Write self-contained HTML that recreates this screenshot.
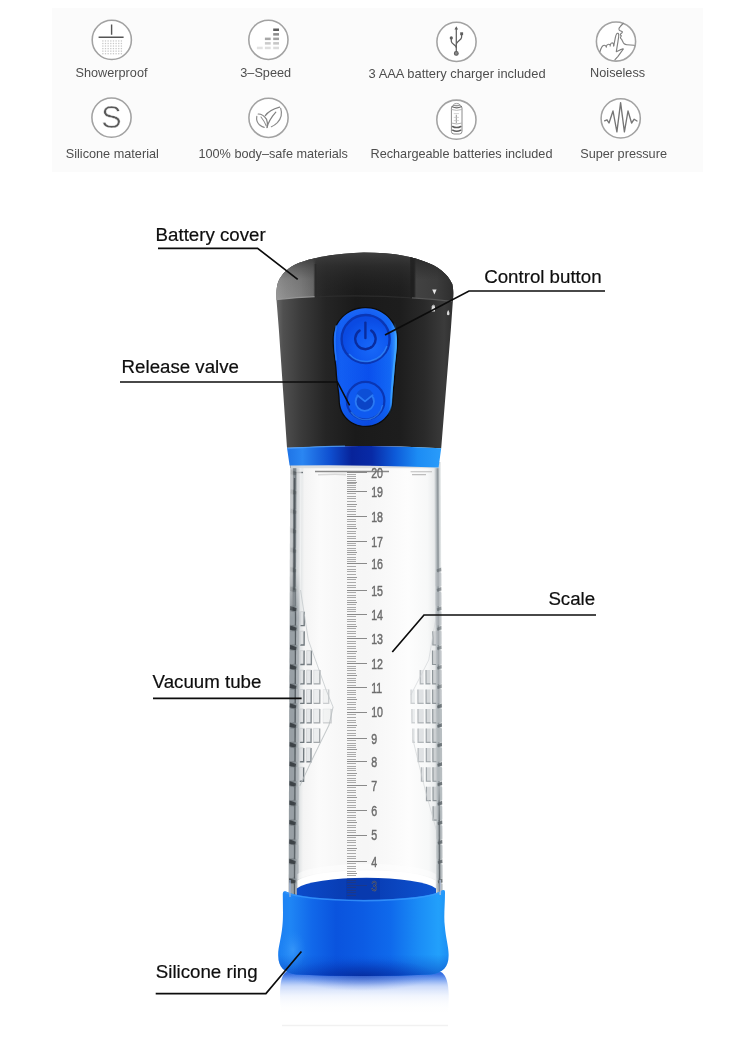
<!DOCTYPE html>
<html lang="en">
<head>
<meta charset="utf-8">
<title>Product parts diagram</title>
<style>
  html, body { margin: 0; padding: 0; background: #ffffff; }
  body { width: 750px; height: 1041px; overflow: hidden; position: relative;
         font-family: "Liberation Sans", sans-serif; }
  svg { position: absolute; left: 0; top: 0; display: block; will-change: transform; }
  text { font-family: "Liberation Sans", sans-serif; }
  .feat { font-size: 12.7px; fill: #4e4e4e; text-anchor: middle; }
  .lab  { font-size: 18.7px; fill: #0e0e0e; stroke: #0e0e0e; stroke-width: 0.2; }
  .call { fill: none; stroke: #0c0c0c; stroke-width: 1.7; stroke-linejoin: miter; }
  .ring { fill: #ffffff; stroke: #a2a2a2; stroke-width: 1.55; }
  .ico  { fill: none; stroke: #6a6a6a; stroke-width: 1.2; stroke-linecap: round; stroke-linejoin: round; }
  .num  { font-size: 14.6px; fill: #6c6c6c; stroke: #6c6c6c; stroke-width: 0.45; }
</style>
</head>
<body>
<svg width="750" height="1041" viewBox="0 0 750 1041">
  <defs>
    <!--DEFS_START-->
    <linearGradient id="gBody" x1="276" x2="453" y1="0" y2="0" gradientUnits="userSpaceOnUse">
      <stop offset="0" stop-color="#6a6a6a"/>
      <stop offset="0.04" stop-color="#505050"/>
      <stop offset="0.14" stop-color="#3b3b3b"/>
      <stop offset="0.28" stop-color="#252525"/>
      <stop offset="0.45" stop-color="#1a1a1a"/>
      <stop offset="0.70" stop-color="#1d1d1d"/>
      <stop offset="0.84" stop-color="#2a2a2a"/>
      <stop offset="0.95" stop-color="#3b3b3b"/>
      <stop offset="1" stop-color="#303030"/>
    </linearGradient>
    <linearGradient id="gTopShade" x1="0" x2="0" y1="252" y2="300" gradientUnits="userSpaceOnUse">
      <stop offset="0" stop-color="#444444" stop-opacity="0.9"/>
      <stop offset="0.3" stop-color="#343434" stop-opacity="0.6"/>
      <stop offset="1" stop-color="#202020" stop-opacity="0"/>
    </linearGradient>
    <linearGradient id="gCoverL" x1="276" x2="316" y1="0" y2="0" gradientUnits="userSpaceOnUse">
      <stop offset="0" stop-color="#9a9a9a"/>
      <stop offset="0.22" stop-color="#8e8e8e"/>
      <stop offset="0.6" stop-color="#808080"/>
      <stop offset="0.92" stop-color="#6c6c6c"/>
      <stop offset="1" stop-color="#4a4a4a"/>
    </linearGradient>
    <linearGradient id="gCoverLv" x1="0" x2="0" y1="258" y2="300" gradientUnits="userSpaceOnUse">
      <stop offset="0" stop-color="#2a2a2a" stop-opacity="0.7"/>
      <stop offset="0.25" stop-color="#2a2a2a" stop-opacity="0.38"/>
      <stop offset="0.5" stop-color="#2a2a2a" stop-opacity="0.12"/>
      <stop offset="1" stop-color="#2a2a2a" stop-opacity="0"/>
    </linearGradient>
    <linearGradient id="gCoverR" x1="412" x2="453" y1="0" y2="0" gradientUnits="userSpaceOnUse">
      <stop offset="0" stop-color="#1f1f1f"/>
      <stop offset="0.05" stop-color="#202020"/>
      <stop offset="0.10" stop-color="#424242"/>
      <stop offset="0.6" stop-color="#3c3c3c"/>
      <stop offset="1" stop-color="#2e2e2e"/>
    </linearGradient>
    <linearGradient id="gCoverRv" x1="0" x2="0" y1="256" y2="280" gradientUnits="userSpaceOnUse">
      <stop offset="0" stop-color="#262626" stop-opacity="0.85"/>
      <stop offset="1" stop-color="#262626" stop-opacity="0"/>
    </linearGradient>
    <linearGradient id="gUpFade" x1="0" x2="0" y1="468" y2="618" gradientUnits="userSpaceOnUse">
      <stop offset="0" stop-color="#ffffff" stop-opacity="1"/>
      <stop offset="0.7" stop-color="#ffffff" stop-opacity="1"/>
      <stop offset="1" stop-color="#ffffff" stop-opacity="0"/>
    </linearGradient>
    <linearGradient id="gRLine" x1="0" x2="0" y1="780" y2="892" gradientUnits="userSpaceOnUse">
      <stop offset="0" stop-color="#60676c" stop-opacity="0"/>
      <stop offset="0.35" stop-color="#60676c" stop-opacity="0.8"/>
      <stop offset="1" stop-color="#555c61" stop-opacity="0.95"/>
    </linearGradient>
    <linearGradient id="gBlueRing" x1="287" x2="441" y1="0" y2="0" gradientUnits="userSpaceOnUse">
      <stop offset="0" stop-color="#1f74e6"/>
      <stop offset="0.10" stop-color="#2a86f2"/>
      <stop offset="0.28" stop-color="#0f4fd0"/>
      <stop offset="0.42" stop-color="#07239a"/>
      <stop offset="0.55" stop-color="#082aa6"/>
      <stop offset="0.70" stop-color="#0d5ad8"/>
      <stop offset="0.85" stop-color="#1c8cf4"/>
      <stop offset="1" stop-color="#2a9cfa"/>
    </linearGradient>
    <linearGradient id="gPanel" x1="333" x2="398" y1="0" y2="0" gradientUnits="userSpaceOnUse">
      <stop offset="0" stop-color="#0d50e6"/>
      <stop offset="0.12" stop-color="#125ff4"/>
      <stop offset="0.55" stop-color="#0a50ee"/>
      <stop offset="0.88" stop-color="#1268f6"/>
      <stop offset="0.97" stop-color="#3b9bff"/>
      <stop offset="1" stop-color="#2a86fa"/>
    </linearGradient>
    <linearGradient id="gHi" x1="0" x2="0" y1="322" y2="416" gradientUnits="userSpaceOnUse">
      <stop offset="0" stop-color="#3fa6ff" stop-opacity="0"/>
      <stop offset="0.2" stop-color="#3fa6ff" stop-opacity="0.9"/>
      <stop offset="0.8" stop-color="#3fa6ff" stop-opacity="0.8"/>
      <stop offset="1" stop-color="#3fa6ff" stop-opacity="0"/>
    </linearGradient>
    <linearGradient id="gPanelV" x1="0" x2="0" y1="308" y2="426" gradientUnits="userSpaceOnUse">
      <stop offset="0" stop-color="#3a8cff" stop-opacity="0.35"/>
      <stop offset="0.12" stop-color="#2a7cff" stop-opacity="0.1"/>
      <stop offset="0.8" stop-color="#0a3cc0" stop-opacity="0"/>
      <stop offset="1" stop-color="#0a3cc0" stop-opacity="0.3"/>
    </linearGradient>
    <radialGradient id="gBtn1" cx="372" cy="348" r="30" gradientUnits="userSpaceOnUse">
      <stop offset="0" stop-color="#1868f8"/>
      <stop offset="0.6" stop-color="#0e58f0"/>
      <stop offset="1" stop-color="#0a4ae2"/>
    </radialGradient>
    <linearGradient id="gTube" x1="290.2" x2="440.8" y1="0" y2="0" gradientUnits="userSpaceOnUse">
      <stop offset="0" stop-color="#979ea3"/>
      <stop offset="0.018" stop-color="#737a7f"/>
      <stop offset="0.04" stop-color="#838b90"/>
      <stop offset="0.058" stop-color="#aeb4b8"/>
      <stop offset="0.072" stop-color="#e2e5e6"/>
      <stop offset="0.095" stop-color="#f4f4f4"/>
      <stop offset="0.20" stop-color="#fbfbfb"/>
      <stop offset="0.34" stop-color="#f7f7f7"/>
      <stop offset="0.50" stop-color="#f6f6f6"/>
      <stop offset="0.64" stop-color="#f9f9f9"/>
      <stop offset="0.78" stop-color="#fdfdfd"/>
      <stop offset="0.91" stop-color="#f7f8f8"/>
      <stop offset="0.955" stop-color="#e9ebec"/>
      <stop offset="0.97" stop-color="#b0b7bb"/>
      <stop offset="0.98" stop-color="#868e93"/>
      <stop offset="0.99" stop-color="#cfd4d6"/>
      <stop offset="1" stop-color="#e9ecec"/>
    </linearGradient>
    <linearGradient id="gBase" x1="278" x2="449" y1="0" y2="0" gradientUnits="userSpaceOnUse">
      <stop offset="0" stop-color="#1c80f2"/>
      <stop offset="0.07" stop-color="#1f86f5"/>
      <stop offset="0.20" stop-color="#1168ea"/>
      <stop offset="0.34" stop-color="#0a54de"/>
      <stop offset="0.50" stop-color="#0c5ce4"/>
      <stop offset="0.66" stop-color="#0f6aec"/>
      <stop offset="0.82" stop-color="#1a8cf6"/>
      <stop offset="0.94" stop-color="#22a0fb"/>
      <stop offset="1" stop-color="#1c8ef4"/>
    </linearGradient>
    <linearGradient id="gBaseV" x1="0" x2="0" y1="890" y2="976" gradientUnits="userSpaceOnUse">
      <stop offset="0" stop-color="#3aa0ff" stop-opacity="0.35"/>
      <stop offset="0.12" stop-color="#2a8cff" stop-opacity="0"/>
      <stop offset="0.75" stop-color="#0540c0" stop-opacity="0"/>
      <stop offset="1" stop-color="#0534b0" stop-opacity="0.55"/>
    </linearGradient>
    <radialGradient id="gBulge" cx="0.5" cy="0.5" r="0.5">
      <stop offset="0" stop-color="#46a2fc" stop-opacity="0.55"/>
      <stop offset="1" stop-color="#2a8cf6" stop-opacity="0"/>
    </radialGradient>
    <radialGradient id="gBotShade" cx="0.5" cy="0.5" r="0.5">
      <stop offset="0" stop-color="#04228c" stop-opacity="0.75"/>
      <stop offset="0.5" stop-color="#052ea6" stop-opacity="0.45"/>
      <stop offset="1" stop-color="#0a44c8" stop-opacity="0"/>
    </radialGradient>
    <radialGradient id="gReflShade" cx="0.5" cy="0.5" r="0.5">
      <stop offset="0" stop-color="#1436a8" stop-opacity="0.6"/>
      <stop offset="0.55" stop-color="#2a54c8" stop-opacity="0.3"/>
      <stop offset="1" stop-color="#5a84e8" stop-opacity="0"/>
    </radialGradient>
    <linearGradient id="gRefl" x1="0" x2="0" y1="974" y2="1012" gradientUnits="userSpaceOnUse">
      <stop offset="0" stop-color="#1f5fe0" stop-opacity="0.9"/>
      <stop offset="0.14" stop-color="#3f7aea" stop-opacity="0.7"/>
      <stop offset="0.32" stop-color="#7ea4f2" stop-opacity="0.42"/>
      <stop offset="0.6" stop-color="#b9cdf8" stop-opacity="0.18"/>
      <stop offset="1" stop-color="#ffffff" stop-opacity="0"/>
    </linearGradient>
    <linearGradient id="gInner" x1="300" x2="434" y1="0" y2="0" gradientUnits="userSpaceOnUse">
      <stop offset="0" stop-color="#0b4ac8"/>
      <stop offset="0.3" stop-color="#093eb6"/>
      <stop offset="0.6" stop-color="#0940b8"/>
      <stop offset="1" stop-color="#0d52cf"/>
    </linearGradient>
    <linearGradient id="gGridFadeL" x1="300" x2="334" y1="0" y2="0" gradientUnits="userSpaceOnUse">
      <stop offset="0" stop-color="#fff" stop-opacity="1"/>
      <stop offset="0.5" stop-color="#fff" stop-opacity="0.75"/>
      <stop offset="1" stop-color="#fff" stop-opacity="0.25"/>
    </linearGradient>
    <clipPath id="clipCap"><path d="M364 252.4C385 252.4 405 254.2 423.7 261.3C438 266.2 447.4 273.4 452.3 284C453.6 290 453.4 295 453 299L450.8 330L441.2 448.2Q364 444 287 447.8L278.9 330L276.4 298.7C276.1 292 276.6 288 277.5 284C279.6 276.6 286 269 294.3 264.9C310 258 335 253 364 252.4Z"/></clipPath>
<!--DEFS_END-->
  </defs>

  <!-- ===== feature strip ===== -->
  <g id="strip">
    <rect x="52" y="8" width="651" height="164" fill="#fbfbfb"/>
        <g id="icons">
    <circle class="ring" cx="111.8" cy="39.9" r="19.6"/><path class="ico" d="M111.6 24.6V34.8M98.6 37.3H123.6" style="stroke:#555;stroke-width:1.4;stroke-linecap:butt"/><g fill="#c9c9c9"><rect x="102.20" y="40.30" width="1.3" height="1.3"/><rect x="104.85" y="40.30" width="1.3" height="1.3"/><rect x="107.50" y="40.30" width="1.3" height="1.3"/><rect x="110.15" y="40.30" width="1.3" height="1.3"/><rect x="112.80" y="40.30" width="1.3" height="1.3"/><rect x="115.45" y="40.30" width="1.3" height="1.3"/><rect x="118.10" y="40.30" width="1.3" height="1.3"/><rect x="120.75" y="40.30" width="1.3" height="1.3"/><rect x="102.20" y="42.85" width="1.3" height="1.3"/><rect x="104.85" y="42.85" width="1.3" height="1.3"/><rect x="107.50" y="42.85" width="1.3" height="1.3"/><rect x="110.15" y="42.85" width="1.3" height="1.3"/><rect x="112.80" y="42.85" width="1.3" height="1.3"/><rect x="115.45" y="42.85" width="1.3" height="1.3"/><rect x="118.10" y="42.85" width="1.3" height="1.3"/><rect x="120.75" y="42.85" width="1.3" height="1.3"/><rect x="102.20" y="45.40" width="1.3" height="1.3"/><rect x="104.85" y="45.40" width="1.3" height="1.3"/><rect x="107.50" y="45.40" width="1.3" height="1.3"/><rect x="110.15" y="45.40" width="1.3" height="1.3"/><rect x="112.80" y="45.40" width="1.3" height="1.3"/><rect x="115.45" y="45.40" width="1.3" height="1.3"/><rect x="118.10" y="45.40" width="1.3" height="1.3"/><rect x="120.75" y="45.40" width="1.3" height="1.3"/><rect x="102.20" y="47.95" width="1.3" height="1.3"/><rect x="104.85" y="47.95" width="1.3" height="1.3"/><rect x="107.50" y="47.95" width="1.3" height="1.3"/><rect x="110.15" y="47.95" width="1.3" height="1.3"/><rect x="112.80" y="47.95" width="1.3" height="1.3"/><rect x="115.45" y="47.95" width="1.3" height="1.3"/><rect x="118.10" y="47.95" width="1.3" height="1.3"/><rect x="120.75" y="47.95" width="1.3" height="1.3"/><rect x="102.20" y="50.50" width="1.3" height="1.3"/><rect x="104.85" y="50.50" width="1.3" height="1.3"/><rect x="107.50" y="50.50" width="1.3" height="1.3"/><rect x="110.15" y="50.50" width="1.3" height="1.3"/><rect x="112.80" y="50.50" width="1.3" height="1.3"/><rect x="115.45" y="50.50" width="1.3" height="1.3"/><rect x="118.10" y="50.50" width="1.3" height="1.3"/><rect x="120.75" y="50.50" width="1.3" height="1.3"/><rect x="102.20" y="53.05" width="1.3" height="1.3"/><rect x="104.85" y="53.05" width="1.3" height="1.3"/><rect x="107.50" y="53.05" width="1.3" height="1.3"/><rect x="110.15" y="53.05" width="1.3" height="1.3"/><rect x="112.80" y="53.05" width="1.3" height="1.3"/><rect x="115.45" y="53.05" width="1.3" height="1.3"/><rect x="118.10" y="53.05" width="1.3" height="1.3"/><rect x="120.75" y="53.05" width="1.3" height="1.3"/></g>
    <circle class="ring" cx="268.4" cy="39.8" r="19.6"/><rect x="256.9" y="46.699999999999996" width="5.8" height="2.5" fill="#e2e2e2"/><rect x="264.9" y="37.599999999999994" width="5.8" height="2.5" fill="#a8a8a8"/><rect x="264.9" y="42.099999999999994" width="5.8" height="2.5" fill="#cacaca"/><rect x="264.9" y="46.699999999999996" width="5.8" height="2.5" fill="#dedede"/><rect x="273.2" y="28.5" width="5.8" height="2.5" fill="#5c5c5c"/><rect x="273.2" y="33.099999999999994" width="5.8" height="2.5" fill="#8c8c8c"/><rect x="273.2" y="37.599999999999994" width="5.8" height="2.5" fill="#a2a2a2"/><rect x="273.2" y="42.099999999999994" width="5.8" height="2.5" fill="#c6c6c6"/><rect x="273.2" y="46.699999999999996" width="5.8" height="2.5" fill="#dcdcdc"/>
    <circle class="ring" cx="456.5" cy="41.8" r="19.6"/><g class="ico" style="stroke:#5e5e5e;stroke-width:1.25"><path d="M456.3 28.2V51.2"/><path d="M456.3 47.6C456.3 44.6 451.3 44.2 451.3 41.2V38.6"/><path d="M456.3 44.2C456.3 41.2 461.6 40.2 461.6 37.2V35"/></g><path d="M456.3 26.2L458.1 29.6H454.5Z" fill="#5e5e5e"/><circle cx="451.3" cy="37.9" r="1.6" fill="#5e5e5e"/><rect x="460.2" y="32.3" width="2.9" height="2.9" fill="#5e5e5e"/><circle cx="456.3" cy="53.4" r="1.9" fill="#8a8a8a" stroke="#5e5e5e" stroke-width="1.1"/>
    <circle class="ring" cx="616" cy="41.5" r="19.6"/><g class="ico" style="stroke:#808080;stroke-width:1.15">
<path d="M623.3 23.3L620.7 26C619.8 27 619 27.8 619 28.6C618.9 29.6 619 30.2 619.6 30.5L622 31.5C622.6 31.8 622.5 32.2 622 32.7L620.4 34.1C620.2 34.6 620.6 35.2 621.3 35.7C621.2 36.4 620.4 37.1 620.4 37.8C620.6 38.5 621.4 38.9 621.7 39.4C622 40.2 622.3 40.8 622.7 41.4C623 42.4 623.4 43.2 624.2 43.8C625 44.4 625.8 44.6 626.8 44.7L634.2 45.3"/>
<path d="M600 51.7C600.3 50.4 600.7 49.4 601.1 48.6C601.4 47.6 601.7 46.9 602.2 46.5C603 45.6 604.2 45 605 45.4C605.6 45.7 606 46 606.3 46.3C606.6 45.2 607.6 44.2 608.5 44.2C609.3 44.2 609.8 44.5 610.2 45C610.6 43.8 611.4 42.9 612.2 42.8C613 42.8 613.4 43.4 613.6 44.4L613.7 46L615.4 37.3C615.7 35.6 616.3 34.2 616.9 33.5C617.6 33 618.5 33.3 618.7 34.4C618.9 36.6 618.3 39 618 41.3L617 47.3L616.3 51.7L620 49.9L623 48.7C623.4 48.8 623.3 49.2 623 49.5L620.7 52.7L618 56.3L615 59.7"/>
<path d="M613.7 46V44.6M610.2 45V46.2M606.3 46.3V47.4" style="stroke-width:0.9"/>
</g>
    <circle class="ring" cx="111.5" cy="117.6" r="19.6"/><text x="111.5" y="128.4" text-anchor="middle" style="font-size:30.5px;fill:#5a5a5a;stroke:#fff;stroke-width:0.5">S</text>
    <circle class="ring" cx="268.5" cy="117.8" r="19.6"/><g class="ico" style="stroke:#808080;stroke-width:1.2">
<path d="M265.3 115.7C267.5 112.5 271.5 109.5 279.6 107.2"/>
<path d="M280.7 108.4C282.2 113 281.2 118.5 277.4 122.7C275.6 124.6 273.6 125.9 271.4 126.7" style="stroke:#8c8c8c"/>
<path d="M267 127.6C268 123.5 270.6 118 275.8 112.2"/>
<path d="M258.2 114C261 114 264.5 116 266.6 119.4C267.5 121.5 267.6 124.5 267.2 127.2"/>
<path d="M256.8 116.4C256.2 119.5 257 122.4 259.4 124.8C260.8 126 262.5 126.9 264.2 127.3" style="stroke:#8c8c8c"/>
<path d="M261 117C263 119.5 265 122.5 266.2 125.8" style="stroke:#8c8c8c;stroke-width:1.05"/>
</g>
    <circle class="ring" cx="456.4" cy="119.7" r="19.6"/><g class="ico" style="stroke:#8c8c8c;stroke-width:1">
<rect x="451.4" y="105.4" width="10.6" height="28.6" rx="2.6"/>
<ellipse cx="456.7" cy="104.7" rx="3" ry="1.3" style="stroke:#9a9a9a;stroke-width:0.9"/>
<path d="M452.2 106.7Q456.7 108.9 461.2 106.7" style="stroke:#6a6a6a;stroke-width:1.2"/>
<path d="M451.8 109.6Q456.7 111.3 461.6 109.6" style="stroke:#b0b0b0;stroke-width:0.9"/>
<path d="M452 123.2Q456.7 124.9 461.4 123.2" style="stroke:#a8a8a8;stroke-width:0.9"/>
<path d="M452.6 126.5Q456.7 128.7 460.8 126.5" style="stroke:#5e5e5e;stroke-width:1.5"/>
<path d="M452.6 130.2Q456.7 132.4 460.8 130.2" style="stroke:#5e5e5e;stroke-width:1.5"/>
<path d="M456.3 115.2V122.8" style="stroke:#8a8a8a;stroke-width:0.9"/>
<path d="M454.2 113.6H458.6M454.2 117.4H458.6M454.2 120.6H458.6" style="stroke:#c2c2c2;stroke-width:0.7"/>
</g>
    <circle class="ring" cx="620.7" cy="118.4" r="19.6"/><path class="ico" style="stroke:#767676;stroke-width:1.35" d="M604.6 120.8L607 119.8L609 123L613 111L616.9 131.8L620.6 102.6L624.4 131.8L628 111L631.6 123L634.2 119.2L637 121"/>
    </g>
    <text class="feat" x="111.5" y="77.3">Showerproof</text>
    <text class="feat" x="265.7" y="77.3">3–Speed</text>
    <text class="feat" x="457.1" y="77.6" style="font-size:12.9px">3 AAA battery charger included</text>
    <text class="feat" x="617.6" y="76.6">Noiseless</text>
    <text class="feat" x="112.3" y="158.3">Silicone material</text>
    <text class="feat" x="273.2" y="158.3">100% body–safe materials</text>
    <text class="feat" x="461.5" y="158.3">Rechargeable batteries included</text>
    <text class="feat" x="623.6" y="157.6">Super pressure</text>
  </g>

  <!-- ===== product ===== -->
  <g id="product">
    <!--PRODUCT_START-->
<g id="tube">
<rect x="335" y="462" width="60" height="436" fill="#f6f6f6"/>
<g transform="translate(1.75 0) skewX(-0.2155)"><rect x="290.2" y="462" width="75.4" height="436" fill="url(#gTube)"/></g>
<g transform="translate(-1.75 0) skewX(0.2155)"><rect x="365.4" y="462" width="75.4" height="436" fill="url(#gTube)"/></g>
<rect x="291" y="465" width="149" height="3.2" fill="#d8dcdf" opacity="0.9"/>
<path d="M315 471.6H389" stroke="#8a8a8a" stroke-width="1.5" fill="none"/>
<path d="M410.6 471.8H432M412 474.6H426" stroke="#bdbdbd" stroke-width="1.1" fill="none"/>
<path d="M292 472.5H303" stroke="#6f767b" stroke-width="1.4" fill="none"/>
<path d="M318 474.8Q335 473.8 346 474.6" stroke="#d9d9d9" stroke-width="1.6" fill="none"/>
<g transform="translate(1.75 0) skewX(-0.2155)"><rect x="290.6" y="475.6" width="4.6" height="13.4" rx="1.4" fill="#9aa1a6" opacity="0.38"/><path d="M290.8 469.8L297.2 472.2L296.6 475.2L290.6 474.2Z" fill="#383e42" opacity="0.37"/><rect x="296.6" y="475.2" width="3.2" height="14.2" rx="0.8" fill="#aeb4b8" opacity="0.34"/><path d="M296.2 475.2V489.4" stroke="#4d5459" stroke-width="1.1" opacity="0.34"/><rect x="290.6" y="495.0" width="4.6" height="13.4" rx="1.4" fill="#9aa1a6" opacity="0.38"/><path d="M290.8 489.2L297.2 491.6L296.6 494.6L290.6 493.6Z" fill="#383e42" opacity="0.37"/><rect x="296.6" y="494.6" width="3.2" height="14.2" rx="0.8" fill="#aeb4b8" opacity="0.34"/><path d="M296.2 494.6V508.9" stroke="#4d5459" stroke-width="1.1" opacity="0.34"/><rect x="290.6" y="514.5" width="4.6" height="13.4" rx="1.4" fill="#9aa1a6" opacity="0.38"/><path d="M290.8 508.7L297.2 511.1L296.6 514.1L290.6 513.1Z" fill="#383e42" opacity="0.37"/><rect x="296.6" y="514.1" width="3.2" height="14.2" rx="0.8" fill="#aeb4b8" opacity="0.34"/><path d="M296.2 514.1V528.3" stroke="#4d5459" stroke-width="1.1" opacity="0.34"/><rect x="290.6" y="533.9" width="4.6" height="13.4" rx="1.4" fill="#9aa1a6" opacity="0.38"/><path d="M290.8 528.1L297.2 530.5L296.6 533.5L290.6 532.5Z" fill="#383e42" opacity="0.37"/><rect x="296.6" y="533.5" width="3.2" height="14.2" rx="0.8" fill="#aeb4b8" opacity="0.34"/><path d="M296.2 533.5V547.8" stroke="#4d5459" stroke-width="1.1" opacity="0.34"/><rect x="290.6" y="553.4" width="4.6" height="13.4" rx="1.4" fill="#9aa1a6" opacity="0.38"/><path d="M290.8 547.6L297.2 550.0L296.6 553.0L290.6 552.0Z" fill="#383e42" opacity="0.37"/><rect x="296.6" y="553.0" width="3.2" height="14.2" rx="0.8" fill="#aeb4b8" opacity="0.34"/><path d="M296.2 553.0V567.2" stroke="#4d5459" stroke-width="1.1" opacity="0.34"/><rect x="290.6" y="572.8" width="4.6" height="13.4" rx="1.4" fill="#9aa1a6" opacity="0.38"/><path d="M290.8 567.0L297.2 569.4L296.6 572.4L290.6 571.4Z" fill="#383e42" opacity="0.37"/><rect x="296.6" y="572.4" width="3.2" height="14.2" rx="0.8" fill="#aeb4b8" opacity="0.34"/><path d="M296.2 572.4V586.7" stroke="#4d5459" stroke-width="1.1" opacity="0.34"/><rect x="290.6" y="592.2" width="4.6" height="13.4" rx="1.4" fill="#9aa1a6" opacity="0.38"/><path d="M290.8 586.5L297.2 588.9L296.6 591.9L290.6 590.9Z" fill="#383e42" opacity="0.37"/><rect x="296.6" y="591.9" width="3.2" height="14.2" rx="0.8" fill="#aeb4b8" opacity="0.34"/><path d="M296.2 591.9V606.1" stroke="#4d5459" stroke-width="1.1" opacity="0.34"/><rect x="290.6" y="611.7" width="4.6" height="13.4" rx="1.4" fill="#9aa1a6" opacity="0.95"/><path d="M290.8 605.9L297.2 608.3L296.6 611.3L290.6 610.3Z" fill="#383e42" opacity="0.92"/><rect x="296.6" y="611.3" width="3.2" height="14.2" rx="0.8" fill="#aeb4b8" opacity="0.85"/><path d="M296.2 611.3V625.6" stroke="#4d5459" stroke-width="1.1" opacity="0.85"/><rect x="290.6" y="631.2" width="4.6" height="13.4" rx="1.4" fill="#9aa1a6" opacity="0.95"/><path d="M290.8 625.4L297.2 627.8L296.6 630.8L290.6 629.8Z" fill="#383e42" opacity="0.92"/><rect x="296.6" y="630.8" width="3.2" height="14.2" rx="0.8" fill="#aeb4b8" opacity="0.85"/><path d="M296.2 630.8V645.0" stroke="#4d5459" stroke-width="1.1" opacity="0.85"/><rect x="290.6" y="650.6" width="4.6" height="13.4" rx="1.4" fill="#9aa1a6" opacity="0.95"/><path d="M290.8 644.8L297.2 647.2L296.6 650.2L290.6 649.2Z" fill="#383e42" opacity="0.92"/><rect x="296.6" y="650.2" width="3.2" height="14.2" rx="0.8" fill="#aeb4b8" opacity="0.85"/><path d="M296.2 650.2V664.5" stroke="#4d5459" stroke-width="1.1" opacity="0.85"/><rect x="290.6" y="670.1" width="4.6" height="13.4" rx="1.4" fill="#9aa1a6" opacity="0.95"/><path d="M290.8 664.3L297.2 666.7L296.6 669.7L290.6 668.7Z" fill="#383e42" opacity="0.92"/><rect x="296.6" y="669.7" width="3.2" height="14.2" rx="0.8" fill="#aeb4b8" opacity="0.85"/><path d="M296.2 669.7V683.9" stroke="#4d5459" stroke-width="1.1" opacity="0.85"/><rect x="290.6" y="689.5" width="4.6" height="13.4" rx="1.4" fill="#9aa1a6" opacity="0.95"/><path d="M290.8 683.7L297.2 686.1L296.6 689.1L290.6 688.1Z" fill="#383e42" opacity="0.92"/><rect x="296.6" y="689.1" width="3.2" height="14.2" rx="0.8" fill="#aeb4b8" opacity="0.85"/><path d="M296.2 689.1V703.4" stroke="#4d5459" stroke-width="1.1" opacity="0.85"/><rect x="290.6" y="709.0" width="4.6" height="13.4" rx="1.4" fill="#9aa1a6" opacity="0.95"/><path d="M290.8 703.2L297.2 705.6L296.6 708.6L290.6 707.6Z" fill="#383e42" opacity="0.92"/><rect x="296.6" y="708.6" width="3.2" height="14.2" rx="0.8" fill="#aeb4b8" opacity="0.85"/><path d="M296.2 708.6V722.8" stroke="#4d5459" stroke-width="1.1" opacity="0.85"/><rect x="290.6" y="728.4" width="4.6" height="13.4" rx="1.4" fill="#9aa1a6" opacity="0.95"/><path d="M290.8 722.6L297.2 725.0L296.6 728.0L290.6 727.0Z" fill="#383e42" opacity="0.92"/><rect x="296.6" y="728.0" width="3.2" height="14.2" rx="0.8" fill="#aeb4b8" opacity="0.85"/><path d="M296.2 728.0V742.3" stroke="#4d5459" stroke-width="1.1" opacity="0.85"/><rect x="290.6" y="747.9" width="4.6" height="13.4" rx="1.4" fill="#9aa1a6" opacity="0.95"/><path d="M290.8 742.1L297.2 744.5L296.6 747.5L290.6 746.5Z" fill="#383e42" opacity="0.92"/><rect x="296.6" y="747.5" width="3.2" height="14.2" rx="0.8" fill="#aeb4b8" opacity="0.85"/><path d="M296.2 747.5V761.7" stroke="#4d5459" stroke-width="1.1" opacity="0.85"/><rect x="290.6" y="767.3" width="4.6" height="13.4" rx="1.4" fill="#9aa1a6" opacity="0.95"/><path d="M290.8 761.5L297.2 763.9L296.6 766.9L290.6 765.9Z" fill="#383e42" opacity="0.92"/><rect x="296.6" y="766.9" width="3.2" height="14.2" rx="0.8" fill="#aeb4b8" opacity="0.85"/><path d="M296.2 766.9V781.2" stroke="#4d5459" stroke-width="1.1" opacity="0.85"/><rect x="290.6" y="786.8" width="4.6" height="13.4" rx="1.4" fill="#9aa1a6" opacity="0.95"/><path d="M290.8 781.0L297.2 783.4L296.6 786.4L290.6 785.4Z" fill="#383e42" opacity="0.92"/><rect x="296.6" y="786.4" width="3.2" height="14.2" rx="0.8" fill="#aeb4b8" opacity="0.85"/><path d="M296.2 786.4V800.6" stroke="#4d5459" stroke-width="1.1" opacity="0.85"/><rect x="290.6" y="806.2" width="4.6" height="13.4" rx="1.4" fill="#9aa1a6" opacity="0.95"/><path d="M290.8 800.4L297.2 802.8L296.6 805.8L290.6 804.8Z" fill="#383e42" opacity="0.92"/><rect x="296.6" y="805.8" width="3.2" height="14.2" rx="0.8" fill="#aeb4b8" opacity="0.85"/><path d="M296.2 805.8V820.1" stroke="#4d5459" stroke-width="1.1" opacity="0.85"/><rect x="290.6" y="825.7" width="4.6" height="13.4" rx="1.4" fill="#9aa1a6" opacity="0.95"/><path d="M290.8 819.9L297.2 822.3L296.6 825.3L290.6 824.3Z" fill="#383e42" opacity="0.92"/><rect x="296.6" y="825.3" width="3.2" height="14.2" rx="0.8" fill="#aeb4b8" opacity="0.85"/><path d="M296.2 825.3V839.5" stroke="#4d5459" stroke-width="1.1" opacity="0.85"/><rect x="290.6" y="845.1" width="4.6" height="13.4" rx="1.4" fill="#9aa1a6" opacity="0.95"/><path d="M290.8 839.3L297.2 841.7L296.6 844.7L290.6 843.7Z" fill="#383e42" opacity="0.92"/><rect x="296.6" y="844.7" width="3.2" height="14.2" rx="0.8" fill="#aeb4b8" opacity="0.85"/><path d="M296.2 844.7V859.0" stroke="#4d5459" stroke-width="1.1" opacity="0.85"/><rect x="290.6" y="864.6" width="4.6" height="13.4" rx="1.4" fill="#9aa1a6" opacity="0.95"/><path d="M290.8 858.8L297.2 861.2L296.6 864.2L290.6 863.2Z" fill="#383e42" opacity="0.92"/><rect x="296.6" y="864.2" width="3.2" height="14.2" rx="0.8" fill="#aeb4b8" opacity="0.85"/><path d="M296.2 864.2V878.4" stroke="#4d5459" stroke-width="1.1" opacity="0.85"/><rect x="290.6" y="884.0" width="4.6" height="13.4" rx="1.4" fill="#9aa1a6" opacity="0.95"/><path d="M290.8 878.2L297.2 880.6L296.6 883.6L290.6 882.6Z" fill="#383e42" opacity="0.92"/><rect x="296.6" y="883.6" width="3.2" height="14.2" rx="0.8" fill="#aeb4b8" opacity="0.85"/><path d="M296.2 883.6V897.9" stroke="#4d5459" stroke-width="1.1" opacity="0.85"/><rect x="290" y="468" width="3.2" height="150" fill="url(#gUpFade)" opacity="0.5"/><rect x="296.4" y="468" width="5" height="150" fill="url(#gUpFade)" opacity="0.55"/><path d="M294.6 478V590" stroke="#4a5156" stroke-width="1.4" opacity="0.85" fill="none"/><rect x="300.9" y="611.7" width="3.9" height="13.9" fill="#dcdfe1" opacity="0.80"/><path d="M304.8 611.7V625.6H300.9" stroke="#6f777c" stroke-width="1.35" fill="none" opacity="1.00"/><path d="M300.9 625.6V611.7H304.8" stroke="#c9cdd0" stroke-width="0.8" fill="none" opacity="1.00"/><rect x="300.9" y="631.2" width="3.9" height="13.9" fill="#dcdfe1" opacity="0.80"/><path d="M304.8 631.2V645.0H300.9" stroke="#6f777c" stroke-width="1.35" fill="none" opacity="1.00"/><path d="M300.9 645.0V631.2H304.8" stroke="#c9cdd0" stroke-width="0.8" fill="none" opacity="1.00"/><rect x="300.9" y="650.6" width="3.9" height="13.9" fill="#dcdfe1" opacity="0.80"/><path d="M304.8 650.6V664.5H300.9" stroke="#6f777c" stroke-width="1.35" fill="none" opacity="1.00"/><path d="M300.9 664.5V650.6H304.8" stroke="#c9cdd0" stroke-width="0.8" fill="none" opacity="1.00"/><rect x="307.4" y="650.6" width="4.7" height="13.9" fill="#dcdfe1" opacity="0.68"/><path d="M312.1 650.6V664.5H307.4" stroke="#6f777c" stroke-width="1.35" fill="none" opacity="0.85"/><path d="M307.4 664.5V650.6H312.1" stroke="#c9cdd0" stroke-width="0.8" fill="none" opacity="0.85"/><rect x="300.9" y="670.1" width="3.9" height="13.9" fill="#dcdfe1" opacity="0.80"/><path d="M304.8 670.1V683.9H300.9" stroke="#6f777c" stroke-width="1.35" fill="none" opacity="1.00"/><path d="M300.9 683.9V670.1H304.8" stroke="#c9cdd0" stroke-width="0.8" fill="none" opacity="1.00"/><rect x="307.4" y="670.1" width="4.7" height="13.9" fill="#dcdfe1" opacity="0.68"/><path d="M312.1 670.1V683.9H307.4" stroke="#6f777c" stroke-width="1.35" fill="none" opacity="0.85"/><path d="M307.4 683.9V670.1H312.1" stroke="#c9cdd0" stroke-width="0.8" fill="none" opacity="0.85"/><rect x="314.5" y="670.1" width="6.2" height="13.9" fill="#dcdfe1" opacity="0.48"/><path d="M320.7 670.1V683.9H314.5" stroke="#6f777c" stroke-width="1.35" fill="none" opacity="0.60"/><path d="M314.5 683.9V670.1H320.7" stroke="#c9cdd0" stroke-width="0.8" fill="none" opacity="0.60"/><rect x="300.9" y="689.5" width="3.9" height="13.9" fill="#dcdfe1" opacity="0.80"/><path d="M304.8 689.5V703.4H300.9" stroke="#6f777c" stroke-width="1.35" fill="none" opacity="1.00"/><path d="M300.9 703.4V689.5H304.8" stroke="#c9cdd0" stroke-width="0.8" fill="none" opacity="1.00"/><rect x="307.4" y="689.5" width="4.7" height="13.9" fill="#dcdfe1" opacity="0.68"/><path d="M312.1 689.5V703.4H307.4" stroke="#6f777c" stroke-width="1.35" fill="none" opacity="0.85"/><path d="M307.4 703.4V689.5H312.1" stroke="#c9cdd0" stroke-width="0.8" fill="none" opacity="0.85"/><rect x="314.5" y="689.5" width="6.2" height="13.9" fill="#dcdfe1" opacity="0.48"/><path d="M320.7 689.5V703.4H314.5" stroke="#6f777c" stroke-width="1.35" fill="none" opacity="0.60"/><path d="M314.5 703.4V689.5H320.7" stroke="#c9cdd0" stroke-width="0.8" fill="none" opacity="0.60"/><rect x="324.0" y="689.5" width="5.6" height="13.9" fill="#dcdfe1" opacity="0.26"/><path d="M329.6 689.5V703.4H324.0" stroke="#6f777c" stroke-width="1.35" fill="none" opacity="0.32"/><path d="M324.0 703.4V689.5H329.6" stroke="#c9cdd0" stroke-width="0.8" fill="none" opacity="0.32"/><rect x="300.9" y="709.0" width="3.9" height="13.9" fill="#dcdfe1" opacity="0.80"/><path d="M304.8 709.0V722.8H300.9" stroke="#6f777c" stroke-width="1.35" fill="none" opacity="1.00"/><path d="M300.9 722.8V709.0H304.8" stroke="#c9cdd0" stroke-width="0.8" fill="none" opacity="1.00"/><rect x="307.4" y="709.0" width="4.7" height="13.9" fill="#dcdfe1" opacity="0.68"/><path d="M312.1 709.0V722.8H307.4" stroke="#6f777c" stroke-width="1.35" fill="none" opacity="0.85"/><path d="M307.4 722.8V709.0H312.1" stroke="#c9cdd0" stroke-width="0.8" fill="none" opacity="0.85"/><rect x="314.5" y="709.0" width="6.2" height="13.9" fill="#dcdfe1" opacity="0.48"/><path d="M320.7 709.0V722.8H314.5" stroke="#6f777c" stroke-width="1.35" fill="none" opacity="0.60"/><path d="M314.5 722.8V709.0H320.7" stroke="#c9cdd0" stroke-width="0.8" fill="none" opacity="0.60"/><rect x="324.0" y="709.0" width="8.1" height="13.9" fill="#dcdfe1" opacity="0.26"/><path d="M332.1 709.0V722.8H324.0" stroke="#6f777c" stroke-width="1.35" fill="none" opacity="0.32"/><path d="M324.0 722.8V709.0H332.1" stroke="#c9cdd0" stroke-width="0.8" fill="none" opacity="0.32"/><rect x="300.9" y="728.4" width="3.9" height="13.9" fill="#dcdfe1" opacity="0.80"/><path d="M304.8 728.4V742.3H300.9" stroke="#6f777c" stroke-width="1.35" fill="none" opacity="1.00"/><path d="M300.9 742.3V728.4H304.8" stroke="#c9cdd0" stroke-width="0.8" fill="none" opacity="1.00"/><rect x="307.4" y="728.4" width="4.7" height="13.9" fill="#dcdfe1" opacity="0.68"/><path d="M312.1 728.4V742.3H307.4" stroke="#6f777c" stroke-width="1.35" fill="none" opacity="0.85"/><path d="M307.4 742.3V728.4H312.1" stroke="#c9cdd0" stroke-width="0.8" fill="none" opacity="0.85"/><rect x="314.5" y="728.4" width="6.2" height="13.9" fill="#dcdfe1" opacity="0.48"/><path d="M320.7 728.4V742.3H314.5" stroke="#6f777c" stroke-width="1.35" fill="none" opacity="0.60"/><path d="M314.5 742.3V728.4H320.7" stroke="#c9cdd0" stroke-width="0.8" fill="none" opacity="0.60"/><rect x="300.9" y="747.9" width="3.9" height="13.9" fill="#dcdfe1" opacity="0.80"/><path d="M304.8 747.9V761.7H300.9" stroke="#6f777c" stroke-width="1.35" fill="none" opacity="1.00"/><path d="M300.9 761.7V747.9H304.8" stroke="#c9cdd0" stroke-width="0.8" fill="none" opacity="1.00"/><rect x="307.4" y="747.9" width="4.7" height="13.9" fill="#dcdfe1" opacity="0.68"/><path d="M312.1 747.9V761.7H307.4" stroke="#6f777c" stroke-width="1.35" fill="none" opacity="0.85"/><path d="M307.4 761.7V747.9H312.1" stroke="#c9cdd0" stroke-width="0.8" fill="none" opacity="0.85"/><rect x="300.9" y="767.3" width="3.9" height="13.9" fill="#dcdfe1" opacity="0.80"/><path d="M304.8 767.3V781.2H300.9" stroke="#6f777c" stroke-width="1.35" fill="none" opacity="1.00"/><path d="M300.9 781.2V767.3H304.8" stroke="#c9cdd0" stroke-width="0.8" fill="none" opacity="1.00"/><path d="M301 590L309 640L327 690L334 707" stroke="#bfc4c7" stroke-width="0.9" fill="none" opacity="0.8"/><path d="M334 707L330 725L313 760L301 786" stroke="#b9bec1" stroke-width="1" fill="none" opacity="0.8"/></g>
<g transform="translate(-1.75 0) skewX(0.2155)"><rect x="435.2" y="572.4" width="5.8" height="14.2" rx="1" fill="#b4babe" opacity="0.63"/><path d="M440.8 567.4L436.2 569.6L436.6 572.0L441 571.2Z" fill="#5d656a" opacity="0.59"/><rect x="435.2" y="591.9" width="5.8" height="14.2" rx="1" fill="#b4babe" opacity="0.63"/><path d="M440.8 586.9L436.2 589.0L436.6 591.5L441 590.6Z" fill="#5d656a" opacity="0.59"/><rect x="435.2" y="611.3" width="5.8" height="14.2" rx="1" fill="#b4babe" opacity="0.63"/><path d="M440.8 606.3L436.2 608.5L436.6 610.9L441 610.1Z" fill="#5d656a" opacity="0.59"/><rect x="435.2" y="630.8" width="5.8" height="14.2" rx="1" fill="#b4babe" opacity="0.63"/><path d="M440.8 625.8L436.2 628.0L436.6 630.4L441 629.6Z" fill="#5d656a" opacity="0.59"/><rect x="435.2" y="650.2" width="5.8" height="14.2" rx="1" fill="#b4babe" opacity="0.63"/><path d="M440.8 645.2L436.2 647.4L436.6 649.8L441 649.0Z" fill="#5d656a" opacity="0.59"/><rect x="435.2" y="669.7" width="5.8" height="14.2" rx="1" fill="#b4babe" opacity="0.63"/><path d="M440.8 664.7L436.2 666.9L436.6 669.3L441 668.5Z" fill="#5d656a" opacity="0.59"/><rect x="435.2" y="689.1" width="5.8" height="14.2" rx="1" fill="#b4babe" opacity="0.63"/><path d="M440.8 684.1L436.2 686.3L436.6 688.7L441 687.9Z" fill="#5d656a" opacity="0.59"/><rect x="435.2" y="708.6" width="5.8" height="14.2" rx="1" fill="#b4babe" opacity="0.90"/><path d="M440.8 703.6L436.2 705.8L436.6 708.2L441 707.4Z" fill="#5d656a" opacity="0.85"/><rect x="435.2" y="728.0" width="5.8" height="14.2" rx="1" fill="#b4babe" opacity="0.90"/><path d="M440.8 723.0L436.2 725.2L436.6 727.6L441 726.8Z" fill="#5d656a" opacity="0.85"/><rect x="435.2" y="747.5" width="5.8" height="14.2" rx="1" fill="#b4babe" opacity="0.90"/><path d="M440.8 742.5L436.2 744.6L436.6 747.1L441 746.2Z" fill="#5d656a" opacity="0.85"/><rect x="435.2" y="766.9" width="5.8" height="14.2" rx="1" fill="#b4babe" opacity="0.90"/><path d="M440.8 761.9L436.2 764.1L436.6 766.5L441 765.7Z" fill="#5d656a" opacity="0.85"/><rect x="435.2" y="786.4" width="5.8" height="14.2" rx="1" fill="#b4babe" opacity="0.90"/><path d="M440.8 781.4L436.2 783.5L436.6 786.0L441 785.1Z" fill="#5d656a" opacity="0.85"/><rect x="435.2" y="805.8" width="5.8" height="14.2" rx="1" fill="#b4babe" opacity="0.90"/><path d="M440.8 800.8L436.2 803.0L436.6 805.4L441 804.6Z" fill="#5d656a" opacity="0.85"/><rect x="435.2" y="825.3" width="5.8" height="14.2" rx="1" fill="#b4babe" opacity="0.90"/><path d="M440.8 820.3L436.2 822.5L436.6 824.9L441 824.1Z" fill="#5d656a" opacity="0.85"/><rect x="435.2" y="844.7" width="5.8" height="14.2" rx="1" fill="#b4babe" opacity="0.90"/><path d="M440.8 839.7L436.2 841.9L436.6 844.3L441 843.5Z" fill="#5d656a" opacity="0.85"/><rect x="435.2" y="864.2" width="5.8" height="14.2" rx="1" fill="#b4babe" opacity="0.90"/><path d="M440.8 859.2L436.2 861.4L436.6 863.8L441 863.0Z" fill="#5d656a" opacity="0.85"/><rect x="435.2" y="883.6" width="5.8" height="14.2" rx="1" fill="#b4babe" opacity="0.90"/><path d="M440.8 878.6L436.2 880.8L436.6 883.2L441 882.4Z" fill="#5d656a" opacity="0.85"/><rect x="432.2" y="631.2" width="3.2" height="13.9" fill="#c6cacd" opacity="0.81"/><path d="M432.2 631.2V645.0H435.4" stroke="#8a9196" stroke-width="1.15" fill="none" opacity="0.95"/><rect x="431.8" y="650.6" width="3.6" height="13.9" fill="#c6cacd" opacity="0.81"/><path d="M431.8 650.6V664.5H435.4" stroke="#8a9196" stroke-width="1.15" fill="none" opacity="0.95"/><rect x="431.8" y="670.1" width="3.6" height="13.9" fill="#c6cacd" opacity="0.81"/><path d="M431.8 670.1V683.9H435.4" stroke="#8a9196" stroke-width="1.15" fill="none" opacity="0.95"/><rect x="425.2" y="670.1" width="4.4" height="13.9" fill="#c6cacd" opacity="0.68"/><path d="M425.2 670.1V683.9H429.6" stroke="#8a9196" stroke-width="1.15" fill="none" opacity="0.80"/><rect x="419.4" y="670.1" width="3.4" height="13.9" fill="#c6cacd" opacity="0.51"/><path d="M419.4 670.1V683.9H422.8" stroke="#8a9196" stroke-width="1.15" fill="none" opacity="0.60"/><rect x="431.8" y="689.5" width="3.6" height="13.9" fill="#c6cacd" opacity="0.81"/><path d="M431.8 689.5V703.4H435.4" stroke="#8a9196" stroke-width="1.15" fill="none" opacity="0.95"/><rect x="425.2" y="689.5" width="4.4" height="13.9" fill="#c6cacd" opacity="0.68"/><path d="M425.2 689.5V703.4H429.6" stroke="#8a9196" stroke-width="1.15" fill="none" opacity="0.80"/><rect x="417.0" y="689.5" width="5.8" height="13.9" fill="#c6cacd" opacity="0.51"/><path d="M417.0 689.5V703.4H422.8" stroke="#8a9196" stroke-width="1.15" fill="none" opacity="0.60"/><rect x="410.1" y="689.5" width="3.9" height="13.9" fill="#c6cacd" opacity="0.31"/><path d="M410.1 689.5V703.4H414.0" stroke="#8a9196" stroke-width="1.15" fill="none" opacity="0.36"/><rect x="431.8" y="709.0" width="3.6" height="13.9" fill="#c6cacd" opacity="0.81"/><path d="M431.8 709.0V722.8H435.4" stroke="#8a9196" stroke-width="1.15" fill="none" opacity="0.95"/><rect x="425.2" y="709.0" width="4.4" height="13.9" fill="#c6cacd" opacity="0.68"/><path d="M425.2 709.0V722.8H429.6" stroke="#8a9196" stroke-width="1.15" fill="none" opacity="0.80"/><rect x="417.0" y="709.0" width="5.8" height="13.9" fill="#c6cacd" opacity="0.51"/><path d="M417.0 709.0V722.8H422.8" stroke="#8a9196" stroke-width="1.15" fill="none" opacity="0.60"/><rect x="410.9" y="709.0" width="3.1" height="13.9" fill="#c6cacd" opacity="0.31"/><path d="M410.9 709.0V722.8H414.0" stroke="#8a9196" stroke-width="1.15" fill="none" opacity="0.36"/><rect x="431.8" y="728.4" width="3.6" height="13.9" fill="#c6cacd" opacity="0.81"/><path d="M431.8 728.4V742.3H435.4" stroke="#8a9196" stroke-width="1.15" fill="none" opacity="0.95"/><rect x="425.2" y="728.4" width="4.4" height="13.9" fill="#c6cacd" opacity="0.68"/><path d="M425.2 728.4V742.3H429.6" stroke="#8a9196" stroke-width="1.15" fill="none" opacity="0.80"/><rect x="417.0" y="728.4" width="5.8" height="13.9" fill="#c6cacd" opacity="0.51"/><path d="M417.0 728.4V742.3H422.8" stroke="#8a9196" stroke-width="1.15" fill="none" opacity="0.60"/><rect x="411.8" y="728.4" width="2.2" height="13.9" fill="#c6cacd" opacity="0.31"/><path d="M411.8 728.4V742.3H414.0" stroke="#8a9196" stroke-width="1.15" fill="none" opacity="0.36"/><rect x="431.8" y="747.9" width="3.6" height="13.9" fill="#c6cacd" opacity="0.81"/><path d="M431.8 747.9V761.7H435.4" stroke="#8a9196" stroke-width="1.15" fill="none" opacity="0.95"/><rect x="425.2" y="747.9" width="4.4" height="13.9" fill="#c6cacd" opacity="0.68"/><path d="M425.2 747.9V761.7H429.6" stroke="#8a9196" stroke-width="1.15" fill="none" opacity="0.80"/><rect x="417.0" y="747.9" width="5.8" height="13.9" fill="#c6cacd" opacity="0.51"/><path d="M417.0 747.9V761.7H422.8" stroke="#8a9196" stroke-width="1.15" fill="none" opacity="0.60"/><rect x="431.8" y="767.3" width="3.6" height="13.9" fill="#c6cacd" opacity="0.81"/><path d="M431.8 767.3V781.2H435.4" stroke="#8a9196" stroke-width="1.15" fill="none" opacity="0.95"/><rect x="425.2" y="767.3" width="4.4" height="13.9" fill="#c6cacd" opacity="0.68"/><path d="M425.2 767.3V781.2H429.6" stroke="#8a9196" stroke-width="1.15" fill="none" opacity="0.80"/><rect x="420.2" y="767.3" width="2.6" height="13.9" fill="#c6cacd" opacity="0.51"/><path d="M420.2 767.3V781.2H422.8" stroke="#8a9196" stroke-width="1.15" fill="none" opacity="0.60"/><rect x="431.8" y="786.8" width="3.6" height="13.9" fill="#c6cacd" opacity="0.81"/><path d="M431.8 786.8V800.6H435.4" stroke="#8a9196" stroke-width="1.15" fill="none" opacity="0.95"/><rect x="425.2" y="786.8" width="4.4" height="13.9" fill="#c6cacd" opacity="0.68"/><path d="M425.2 786.8V800.6H429.6" stroke="#8a9196" stroke-width="1.15" fill="none" opacity="0.80"/><rect x="431.8" y="806.2" width="3.6" height="13.9" fill="#c6cacd" opacity="0.81"/><path d="M431.8 806.2V820.1H435.4" stroke="#8a9196" stroke-width="1.15" fill="none" opacity="0.95"/><path d="M438 780V892" stroke="url(#gRLine)" stroke-width="1.6" fill="none"/><path d="M435 620L428 660L410 695" stroke="#cfd3d5" stroke-width="0.9" fill="none" opacity="0.7"/><path d="M412 740L424 790L435 830" stroke="#cdd1d3" stroke-width="0.9" fill="none" opacity="0.7"/></g>
<path d="M297.4 888.6A72 14.4 0 0 1 435.6 888.6V880.6A72 14.4 0 0 0 297.4 880.6Z" fill="#ffffff" opacity="0.95"/>
<path d="M297.4 880A72 14.4 0 0 1 435.6 880V874A72 14.4 0 0 0 297.4 874Z" fill="#ffffff" opacity="0.45"/>
<g fill="none" shape-rendering="crispEdges"><path d="M346.8 472.60H367.4" stroke="#8a8a8a" stroke-width="1"/><path d="M346.8 474.48H356.2" stroke="#aaaaaa" stroke-width="1"/><path d="M346.8 476.36H356.2" stroke="#aaaaaa" stroke-width="1"/><path d="M346.8 478.24H356.2" stroke="#aaaaaa" stroke-width="1"/><path d="M346.8 480.12H356.2" stroke="#aaaaaa" stroke-width="1"/><path d="M346.8 482.00H356.6" stroke="#999999" stroke-width="1"/><path d="M346.8 483.88H356.2" stroke="#aaaaaa" stroke-width="1"/><path d="M346.8 485.76H356.2" stroke="#aaaaaa" stroke-width="1"/><path d="M346.8 487.64H356.2" stroke="#aaaaaa" stroke-width="1"/><path d="M346.8 489.52H356.2" stroke="#aaaaaa" stroke-width="1"/><path d="M346.8 491.40H367.4" stroke="#8a8a8a" stroke-width="1"/><path d="M346.8 493.92H356.2" stroke="#aaaaaa" stroke-width="1"/><path d="M346.8 496.44H356.2" stroke="#aaaaaa" stroke-width="1"/><path d="M346.8 498.96H356.2" stroke="#aaaaaa" stroke-width="1"/><path d="M346.8 501.48H356.2" stroke="#aaaaaa" stroke-width="1"/><path d="M346.8 504.00H356.6" stroke="#999999" stroke-width="1"/><path d="M346.8 506.52H356.2" stroke="#aaaaaa" stroke-width="1"/><path d="M346.8 509.04H356.2" stroke="#aaaaaa" stroke-width="1"/><path d="M346.8 511.56H356.2" stroke="#aaaaaa" stroke-width="1"/><path d="M346.8 514.08H356.2" stroke="#aaaaaa" stroke-width="1"/><path d="M346.8 516.60H367.4" stroke="#8a8a8a" stroke-width="1"/><path d="M346.8 519.07H356.2" stroke="#aaaaaa" stroke-width="1"/><path d="M346.8 521.54H356.2" stroke="#aaaaaa" stroke-width="1"/><path d="M346.8 524.01H356.2" stroke="#aaaaaa" stroke-width="1"/><path d="M346.8 526.48H356.2" stroke="#aaaaaa" stroke-width="1"/><path d="M346.8 528.95H356.6" stroke="#999999" stroke-width="1"/><path d="M346.8 531.42H356.2" stroke="#aaaaaa" stroke-width="1"/><path d="M346.8 533.89H356.2" stroke="#aaaaaa" stroke-width="1"/><path d="M346.8 536.36H356.2" stroke="#aaaaaa" stroke-width="1"/><path d="M346.8 538.83H356.2" stroke="#aaaaaa" stroke-width="1"/><path d="M346.8 541.30H367.4" stroke="#8a8a8a" stroke-width="1"/><path d="M346.8 543.56H356.2" stroke="#aaaaaa" stroke-width="1"/><path d="M346.8 545.82H356.2" stroke="#aaaaaa" stroke-width="1"/><path d="M346.8 548.08H356.2" stroke="#aaaaaa" stroke-width="1"/><path d="M346.8 550.34H356.2" stroke="#aaaaaa" stroke-width="1"/><path d="M346.8 552.60H356.6" stroke="#999999" stroke-width="1"/><path d="M346.8 554.86H356.2" stroke="#aaaaaa" stroke-width="1"/><path d="M346.8 557.12H356.2" stroke="#aaaaaa" stroke-width="1"/><path d="M346.8 559.38H356.2" stroke="#aaaaaa" stroke-width="1"/><path d="M346.8 561.64H356.2" stroke="#aaaaaa" stroke-width="1"/><path d="M346.8 563.90H367.4" stroke="#8a8a8a" stroke-width="1"/><path d="M346.8 566.57H356.2" stroke="#aaaaaa" stroke-width="1"/><path d="M346.8 569.24H356.2" stroke="#aaaaaa" stroke-width="1"/><path d="M346.8 571.91H356.2" stroke="#aaaaaa" stroke-width="1"/><path d="M346.8 574.58H356.2" stroke="#aaaaaa" stroke-width="1"/><path d="M346.8 577.25H356.6" stroke="#999999" stroke-width="1"/><path d="M346.8 579.92H356.2" stroke="#aaaaaa" stroke-width="1"/><path d="M346.8 582.59H356.2" stroke="#aaaaaa" stroke-width="1"/><path d="M346.8 585.26H356.2" stroke="#aaaaaa" stroke-width="1"/><path d="M346.8 587.93H356.2" stroke="#aaaaaa" stroke-width="1"/><path d="M346.8 590.60H367.4" stroke="#8a8a8a" stroke-width="1"/><path d="M346.8 592.97H356.2" stroke="#aaaaaa" stroke-width="1"/><path d="M346.8 595.34H356.2" stroke="#aaaaaa" stroke-width="1"/><path d="M346.8 597.71H356.2" stroke="#aaaaaa" stroke-width="1"/><path d="M346.8 600.08H356.2" stroke="#aaaaaa" stroke-width="1"/><path d="M346.8 602.45H356.6" stroke="#999999" stroke-width="1"/><path d="M346.8 604.82H356.2" stroke="#aaaaaa" stroke-width="1"/><path d="M346.8 607.19H356.2" stroke="#aaaaaa" stroke-width="1"/><path d="M346.8 609.56H356.2" stroke="#aaaaaa" stroke-width="1"/><path d="M346.8 611.93H356.2" stroke="#aaaaaa" stroke-width="1"/><path d="M346.8 614.30H367.4" stroke="#8a8a8a" stroke-width="1"/><path d="M346.8 616.73H356.2" stroke="#aaaaaa" stroke-width="1"/><path d="M346.8 619.16H356.2" stroke="#aaaaaa" stroke-width="1"/><path d="M346.8 621.59H356.2" stroke="#aaaaaa" stroke-width="1"/><path d="M346.8 624.02H356.2" stroke="#aaaaaa" stroke-width="1"/><path d="M346.8 626.45H356.6" stroke="#999999" stroke-width="1"/><path d="M346.8 628.88H356.2" stroke="#aaaaaa" stroke-width="1"/><path d="M346.8 631.31H356.2" stroke="#aaaaaa" stroke-width="1"/><path d="M346.8 633.74H356.2" stroke="#aaaaaa" stroke-width="1"/><path d="M346.8 636.17H356.2" stroke="#aaaaaa" stroke-width="1"/><path d="M346.8 638.60H367.4" stroke="#8a8a8a" stroke-width="1"/><path d="M346.8 641.10H356.2" stroke="#aaaaaa" stroke-width="1"/><path d="M346.8 643.60H356.2" stroke="#aaaaaa" stroke-width="1"/><path d="M346.8 646.10H356.2" stroke="#aaaaaa" stroke-width="1"/><path d="M346.8 648.60H356.2" stroke="#aaaaaa" stroke-width="1"/><path d="M346.8 651.10H356.6" stroke="#999999" stroke-width="1"/><path d="M346.8 653.60H356.2" stroke="#aaaaaa" stroke-width="1"/><path d="M346.8 656.10H356.2" stroke="#aaaaaa" stroke-width="1"/><path d="M346.8 658.60H356.2" stroke="#aaaaaa" stroke-width="1"/><path d="M346.8 661.10H356.2" stroke="#aaaaaa" stroke-width="1"/><path d="M346.8 663.60H367.4" stroke="#8a8a8a" stroke-width="1"/><path d="M346.8 666.00H356.2" stroke="#aaaaaa" stroke-width="1"/><path d="M346.8 668.40H356.2" stroke="#aaaaaa" stroke-width="1"/><path d="M346.8 670.80H356.2" stroke="#aaaaaa" stroke-width="1"/><path d="M346.8 673.20H356.2" stroke="#aaaaaa" stroke-width="1"/><path d="M346.8 675.60H356.6" stroke="#999999" stroke-width="1"/><path d="M346.8 678.00H356.2" stroke="#aaaaaa" stroke-width="1"/><path d="M346.8 680.40H356.2" stroke="#aaaaaa" stroke-width="1"/><path d="M346.8 682.80H356.2" stroke="#aaaaaa" stroke-width="1"/><path d="M346.8 685.20H356.2" stroke="#aaaaaa" stroke-width="1"/><path d="M346.8 687.60H367.4" stroke="#8a8a8a" stroke-width="1"/><path d="M346.8 690.06H356.2" stroke="#aaaaaa" stroke-width="1"/><path d="M346.8 692.52H356.2" stroke="#aaaaaa" stroke-width="1"/><path d="M346.8 694.98H356.2" stroke="#aaaaaa" stroke-width="1"/><path d="M346.8 697.44H356.2" stroke="#aaaaaa" stroke-width="1"/><path d="M346.8 699.90H356.6" stroke="#999999" stroke-width="1"/><path d="M346.8 702.36H356.2" stroke="#aaaaaa" stroke-width="1"/><path d="M346.8 704.82H356.2" stroke="#aaaaaa" stroke-width="1"/><path d="M346.8 707.28H356.2" stroke="#aaaaaa" stroke-width="1"/><path d="M346.8 709.74H356.2" stroke="#aaaaaa" stroke-width="1"/><path d="M346.8 712.20H367.4" stroke="#8a8a8a" stroke-width="1"/><path d="M346.8 714.83H356.2" stroke="#aaaaaa" stroke-width="1"/><path d="M346.8 717.46H356.2" stroke="#aaaaaa" stroke-width="1"/><path d="M346.8 720.09H356.2" stroke="#aaaaaa" stroke-width="1"/><path d="M346.8 722.72H356.2" stroke="#aaaaaa" stroke-width="1"/><path d="M346.8 725.35H356.6" stroke="#999999" stroke-width="1"/><path d="M346.8 727.98H356.2" stroke="#aaaaaa" stroke-width="1"/><path d="M346.8 730.61H356.2" stroke="#aaaaaa" stroke-width="1"/><path d="M346.8 733.24H356.2" stroke="#aaaaaa" stroke-width="1"/><path d="M346.8 735.87H356.2" stroke="#aaaaaa" stroke-width="1"/><path d="M346.8 738.50H367.4" stroke="#8a8a8a" stroke-width="1"/><path d="M346.8 740.78H356.2" stroke="#aaaaaa" stroke-width="1"/><path d="M346.8 743.06H356.2" stroke="#aaaaaa" stroke-width="1"/><path d="M346.8 745.34H356.2" stroke="#aaaaaa" stroke-width="1"/><path d="M346.8 747.62H356.2" stroke="#aaaaaa" stroke-width="1"/><path d="M346.8 749.90H356.6" stroke="#999999" stroke-width="1"/><path d="M346.8 752.18H356.2" stroke="#aaaaaa" stroke-width="1"/><path d="M346.8 754.46H356.2" stroke="#aaaaaa" stroke-width="1"/><path d="M346.8 756.74H356.2" stroke="#aaaaaa" stroke-width="1"/><path d="M346.8 759.02H356.2" stroke="#aaaaaa" stroke-width="1"/><path d="M346.8 761.30H367.4" stroke="#8a8a8a" stroke-width="1"/><path d="M346.8 763.71H356.2" stroke="#aaaaaa" stroke-width="1"/><path d="M346.8 766.12H356.2" stroke="#aaaaaa" stroke-width="1"/><path d="M346.8 768.53H356.2" stroke="#aaaaaa" stroke-width="1"/><path d="M346.8 770.94H356.2" stroke="#aaaaaa" stroke-width="1"/><path d="M346.8 773.35H356.6" stroke="#999999" stroke-width="1"/><path d="M346.8 775.76H356.2" stroke="#aaaaaa" stroke-width="1"/><path d="M346.8 778.17H356.2" stroke="#aaaaaa" stroke-width="1"/><path d="M346.8 780.58H356.2" stroke="#aaaaaa" stroke-width="1"/><path d="M346.8 782.99H356.2" stroke="#aaaaaa" stroke-width="1"/><path d="M346.8 785.40H367.4" stroke="#8a8a8a" stroke-width="1"/><path d="M346.8 787.90H356.2" stroke="#aaaaaa" stroke-width="1"/><path d="M346.8 790.40H356.2" stroke="#aaaaaa" stroke-width="1"/><path d="M346.8 792.90H356.2" stroke="#aaaaaa" stroke-width="1"/><path d="M346.8 795.40H356.2" stroke="#aaaaaa" stroke-width="1"/><path d="M346.8 797.90H356.6" stroke="#999999" stroke-width="1"/><path d="M346.8 800.40H356.2" stroke="#aaaaaa" stroke-width="1"/><path d="M346.8 802.90H356.2" stroke="#aaaaaa" stroke-width="1"/><path d="M346.8 805.40H356.2" stroke="#aaaaaa" stroke-width="1"/><path d="M346.8 807.90H356.2" stroke="#aaaaaa" stroke-width="1"/><path d="M346.8 810.40H367.4" stroke="#8a8a8a" stroke-width="1"/><path d="M346.8 812.86H356.2" stroke="#aaaaaa" stroke-width="1"/><path d="M346.8 815.32H356.2" stroke="#aaaaaa" stroke-width="1"/><path d="M346.8 817.78H356.2" stroke="#aaaaaa" stroke-width="1"/><path d="M346.8 820.24H356.2" stroke="#aaaaaa" stroke-width="1"/><path d="M346.8 822.70H356.6" stroke="#999999" stroke-width="1"/><path d="M346.8 825.16H356.2" stroke="#aaaaaa" stroke-width="1"/><path d="M346.8 827.62H356.2" stroke="#aaaaaa" stroke-width="1"/><path d="M346.8 830.08H356.2" stroke="#aaaaaa" stroke-width="1"/><path d="M346.8 832.54H356.2" stroke="#aaaaaa" stroke-width="1"/><path d="M346.8 835.00H367.4" stroke="#8a8a8a" stroke-width="1"/><path d="M346.8 837.66H356.2" stroke="#aaaaaa" stroke-width="1"/><path d="M346.8 840.32H356.2" stroke="#aaaaaa" stroke-width="1"/><path d="M346.8 842.98H356.2" stroke="#aaaaaa" stroke-width="1"/><path d="M346.8 845.64H356.2" stroke="#aaaaaa" stroke-width="1"/><path d="M346.8 848.30H356.6" stroke="#999999" stroke-width="1"/><path d="M346.8 850.96H356.2" stroke="#aaaaaa" stroke-width="1"/><path d="M346.8 853.62H356.2" stroke="#aaaaaa" stroke-width="1"/><path d="M346.8 856.28H356.2" stroke="#aaaaaa" stroke-width="1"/><path d="M346.8 858.94H356.2" stroke="#aaaaaa" stroke-width="1"/><path d="M346.8 861.60H367.4" stroke="#8a8a8a" stroke-width="1"/><path d="M346.8 863.97H356.2" stroke="#aaaaaa" stroke-width="1"/><path d="M346.8 866.34H356.2" stroke="#aaaaaa" stroke-width="1"/><path d="M346.8 868.71H356.2" stroke="#aaaaaa" stroke-width="1"/><path d="M346.8 871.08H356.2" stroke="#aaaaaa" stroke-width="1"/><path d="M346.8 873.45H356.6" stroke="#999999" stroke-width="1"/><path d="M346.8 875.82H356.2" stroke="#aaaaaa" stroke-width="1"/><path d="M346.8 878.19H356.2" stroke="#aaaaaa" stroke-width="1"/><path d="M346.8 880.56H356.2" stroke="#aaaaaa" stroke-width="1"/><path d="M346.8 882.93H356.2" stroke="#aaaaaa" stroke-width="1"/><path d="M346.8 885.30H367.4" stroke="#2b5fc4" stroke-width="1.1" opacity="0.7"/></g>
<g><text class="num" transform="translate(371.2 477.8) scale(0.73 1)">20</text><text class="num" transform="translate(371.2 496.6) scale(0.73 1)">19</text><text class="num" transform="translate(371.2 521.8) scale(0.73 1)">18</text><text class="num" transform="translate(371.2 546.5) scale(0.73 1)">17</text><text class="num" transform="translate(371.2 569.1) scale(0.73 1)">16</text><text class="num" transform="translate(371.2 595.8) scale(0.73 1)">15</text><text class="num" transform="translate(371.2 619.5) scale(0.73 1)">14</text><text class="num" transform="translate(371.2 643.8) scale(0.73 1)">13</text><text class="num" transform="translate(371.2 668.8) scale(0.73 1)">12</text><text class="num" transform="translate(371.2 692.8) scale(0.73 1)">11</text><text class="num" transform="translate(371.2 717.4) scale(0.73 1)">10</text><text class="num" transform="translate(371.2 743.7) scale(0.73 1)">9</text><text class="num" transform="translate(371.2 766.5) scale(0.73 1)">8</text><text class="num" transform="translate(371.2 790.6) scale(0.73 1)">7</text><text class="num" transform="translate(371.2 815.6) scale(0.73 1)">6</text><text class="num" transform="translate(371.2 840.2) scale(0.73 1)">5</text><text class="num" transform="translate(371.2 866.8) scale(0.73 1)">4</text></g>
</g>
<g id="base">
<path d="M286 972H441C448 976 450 990 448 1012H281C279 990 280 976 286 972Z" fill="url(#gRefl)"/>
<ellipse cx="362" cy="974" rx="74" ry="17" fill="url(#gReflShade)"/>
<path d="M282 1025.5H448" stroke="#f1f1f1" stroke-width="1.4"/>
<path d="M296.8 888.4A72 14.4 0 0 1 436 888.4V902H296.8Z" fill="url(#gInner)"/>
<rect x="346" y="879" width="34" height="22" fill="#08309e" opacity="0.35"/>
<g shape-rendering="crispEdges"><path d="M346.8 885.3H367.4M346.8 882.9H356M346.8 880.5H356M346.8 887.8H356M346.8 890.3H356M346.8 892.8H356M346.8 895.2H356" stroke="#1c3888" stroke-width="1" fill="none" opacity="0.95"/></g>
<text class="num" transform="translate(371.2 890.5) scale(0.73 1)" style="fill:#16307e">3</text>
<path d="M282.8 894C282.8 891.6 284 890.6 286 891.4Q300 898.6 364 899.8Q428 898.8 442 890.4C443.8 889.4 445 890.2 445 892C445 905 443.6 917 444.8 926C446 940 449 948 448.6 956C448.4 967 443 973 431 974.4Q364 977.4 296 974.4C284 973 278.4 967 278.2 956C277.8 948 281 940 282.4 926C283.4 917 282.8 905 282.8 894Z" fill="url(#gBase)"/>
<path d="M282.8 894C282.8 891.6 284 890.6 286 891.4Q300 898.6 364 899.8Q428 898.8 442 890.4C443.8 889.4 445 890.2 445 892C445 905 443.6 917 444.8 926C446 940 449 948 448.6 956C448.4 967 443 973 431 974.4Q364 977.4 296 974.4C284 973 278.4 967 278.2 956C277.8 948 281 940 282.4 926C283.4 917 282.8 905 282.8 894Z" fill="url(#gBaseV)"/>
<ellipse cx="293" cy="950" rx="13" ry="20" fill="url(#gBulge)"/>
<clipPath id="clipBase"><path d="M282.8 894C282.8 891.6 284 890.6 286 891.4Q300 898.6 364 899.8Q428 898.8 442 890.4C443.8 889.4 445 890.2 445 892C445 905 443.6 917 444.8 926C446 940 449 948 448.6 956C448.4 967 443 973 431 974.4Q364 977.4 296 974.4C284 973 278.4 967 278.2 956C277.8 948 281 940 282.4 926C283.4 917 282.8 905 282.8 894Z"/></clipPath>
<g clip-path="url(#clipBase)"><ellipse cx="362" cy="978" rx="78" ry="20" fill="url(#gBotShade)"/></g>
<path d="M285.6 892.4Q300 899.6 364 900.8Q428 899.8 442.4 891.4" stroke="#3b9afc" stroke-width="1.6" fill="none" opacity="0.75"/>
<path d="M290 880V897" stroke="#9fb4d8" stroke-width="1.6" opacity="0.7"/>
<path d="M440.2 880V895" stroke="#b9c8e2" stroke-width="1.6" opacity="0.7"/>
</g>
<g id="cap">
<path d="M364 252.4C385 252.4 405 254.2 423.7 261.3C438 266.2 447.4 273.4 452.3 284C453.6 290 453.4 295 453 299L450.8 330L441.2 448.2Q364 444 287 447.8L278.9 330L276.4 298.7C276.1 292 276.6 288 277.5 284C279.6 276.6 286 269 294.3 264.9C310 258 335 253 364 252.4Z" fill="url(#gBody)"/>
<g clip-path="url(#clipCap)">
<rect x="270" y="250" width="190" height="52" fill="url(#gTopShade)"/>
<path d="M270 250H316C314.6 262 314.8 285 314.8 296.6Q296 297.4 270 300.4Z" fill="url(#gCoverL)"/>
<path d="M270 250H316C314.6 262 314.8 285 314.8 296.6Q296 297.4 270 300.4Z" fill="url(#gCoverLv)"/>
<path d="M270 300.2Q296 297.4 314.8 296.6" stroke="#9a9a9a" stroke-width="1.3" fill="none" opacity="0.9"/>
<path d="M315.4 264V296.6" stroke="#2a2a2a" stroke-width="1.6" fill="none" opacity="0.8"/>
<path d="M314.8 296.8Q364 294.6 412 297.8" stroke="#2e2e2e" stroke-width="1.2" fill="none" opacity="0.9"/>
<path d="M410.4 256H460V302.4Q436 298.8 410.4 297.8Z" fill="url(#gCoverR)"/>
<rect x="410" y="250" width="50" height="30" fill="url(#gCoverRv)"/>
<path d="M412 297.8Q436 298.8 460 302.6" stroke="#565656" stroke-width="1.2" fill="none"/>
</g>
<path d="M432.2 289.6H436.6L434.4 294.6Z" fill="#e6e6e6"/>
<path d="M431.6 308.2A1.9 2.4 0 0 1 435 306.6V311.4H431.6Z" fill="#dcdcdc"/><path d="M432 306.6A1.6 2 0 0 1 434.8 306" stroke="#dcdcdc" stroke-width="0.9" fill="none"/>
<path d="M448.2 310C449.4 312 449.6 313.2 449.4 314.4A1.3 1.3 0 0 1 447 314.4C446.8 313.2 447 312 448.2 310Z" fill="#d8d8d8"/>
<path d="M287 447.8Q364 444 441.2 448.2L438.6 467.4Q364 464.6 289.6 465.6Z" fill="url(#gBlueRing)"/>
<path d="M287.2 448.6Q320 446.6 345 446.2" stroke="#4aa0ff" stroke-width="1.2" fill="none" opacity="0.7"/>
<path d="M365.4 308.2C383 308.2 397 322 397 339.6C397 352 394.7 362 394.4 371C394 382 392 392 392 400C392 414.6 380 425.8 365.6 425.8C351 425.8 339.8 414.6 339.8 400C339.8 392 337.2 382 336.8 371C336.4 362 333.8 352 333.8 339.6C333.8 322 347.6 308.2 365.4 308.2Z" fill="#0a0a0a" stroke="#0a0a0a" stroke-width="2.6" opacity="0.9"/>
<path d="M365.4 308.2C383 308.2 397 322 397 339.6C397 352 394.7 362 394.4 371C394 382 392 392 392 400C392 414.6 380 425.8 365.6 425.8C351 425.8 339.8 414.6 339.8 400C339.8 392 337.2 382 336.8 371C336.4 362 333.8 352 333.8 339.6C333.8 322 347.6 308.2 365.4 308.2Z" fill="url(#gPanel)"/>
<path d="M365.4 308.2C383 308.2 397 322 397 339.6C397 352 394.7 362 394.4 371C394 382 392 392 392 400C392 414.6 380 425.8 365.6 425.8C351 425.8 339.8 414.6 339.8 400C339.8 392 337.2 382 336.8 371C336.4 362 333.8 352 333.8 339.6C333.8 322 347.6 308.2 365.4 308.2Z" fill="url(#gPanelV)"/>
<path d="M394.4 324C396.6 334 396.4 346 394.8 358C393.6 370 391.6 388 391.2 402C391 407 390 411 388.4 414" stroke="url(#gHi)" stroke-width="2" fill="none" stroke-linecap="round"/>
<path d="M336.2 326C334.2 336 334.6 348 336.2 360" stroke="#2b80fa" stroke-width="1.6" fill="none" opacity="0.8" stroke-linecap="round"/>
<circle cx="365.6" cy="339" r="24" fill="url(#gBtn1)" stroke="#0a36b4" stroke-width="2.4"/>
<path d="M349 354A22.4 22.4 0 0 0 387 346" stroke="#3f9cff" stroke-width="1.6" fill="none" opacity="0.55"/>
<path d="M359.6 330.6A10.2 10.2 0 1 0 371.2 330.6" stroke="#092c9e" stroke-width="2.4" fill="none" stroke-linecap="round"/>
<path d="M365.4 322.6V338" stroke="#092c9e" stroke-width="2.4" fill="none" stroke-linecap="round"/>
<circle cx="365.6" cy="400.7" r="18.8" fill="#0f5af0" stroke="#0a36b4" stroke-width="2.2"/>
<path d="M351 412A17.4 17.4 0 0 0 382.6 405" stroke="#3f9cff" stroke-width="1.4" fill="none" opacity="0.5"/>
<circle cx="364.8" cy="401.6" r="9.2" fill="#0b44c6" stroke="#2a7af4" stroke-width="1.8"/>
<path d="M356.4 394.2L357.6 395.2L365 401.2L372.4 395.2L373.4 394.2A9.4 9.4 0 0 0 356.4 394.2Z" fill="#0d4fd6"/>
<path d="M357.4 395.2L365 401.4L372.6 395.2" stroke="#2a7af4" stroke-width="1.8" fill="none" stroke-linejoin="round" stroke-linecap="round"/>
</g>
<!--PRODUCT_END-->
  </g>

  <!-- ===== callouts ===== -->
  <g id="callouts">
    <polyline class="call" points="158,248.3 257.6,248.3 297.7,279.3"/>
    <polyline class="call" points="605,291 469,291 385,335"/>
    <polyline class="call" points="120,382 337.4,382 349.6,405.4" style="stroke-width:1.55"/>
    <polyline class="call" points="596,615 424,615 392.3,652"/>
    <polyline class="call" points="153,698.3 301.6,698.3"/>
    <polyline class="call" points="155.7,993.6 265.9,993.6 301.4,951.5"/>
    <text class="lab" x="155.6" y="240.7">Battery cover</text>
    <text class="lab" x="484.2" y="282.7">Control button</text>
    <text class="lab" x="121.6" y="373">Release valve</text>
    <text class="lab" x="548.4" y="604.5">Scale</text>
    <text class="lab" x="152.6" y="687.9">Vacuum tube</text>
    <text class="lab" x="155.8" y="978.4">Silicone ring</text>
  </g>
</svg>
</body>
</html>
